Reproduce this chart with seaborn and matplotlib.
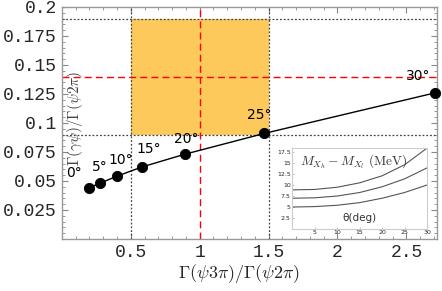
import numpy as np
import pandas as pd
import matplotlib
matplotlib.use("Agg")
import matplotlib.pyplot as plt
import matplotlib.patches as mpatches
from matplotlib.ticker import MultipleLocator, FixedLocator
import seaborn as sns

# valores
angulos = [0, 5, 10, 15, 20, 25, 30]
razao_3pi = [0.196, 0.275, 0.398, 0.580, 0.891, 1.47, 2.71]
razao_gamma = [0.044, 0.048, 0.054, 0.062, 0.073, 0.091, 0.126]
rotulos = ["0°", "5°", "10°", "15°", "20°", "25°", "30°"]

# faixa experimental
faixa_x = [0.5, 1.5]
faixa_y = [0.09, 0.19]
central_x = 1.0
central_y = 0.14

# inset: diferenca de massa vs theta
theta = [0, 5, 10, 15, 20, 25, 30]
curva_alta = [8.9, 9.0, 9.5, 10.5, 12.1, 14.6, 18.4]
curva_media = [7.0, 7.1, 7.5, 8.3, 9.6, 11.4, 13.9]
curva_baixa = [5.0, 5.1, 5.4, 6.0, 7.0, 8.3, 10.0]

sns.set_style("ticks")
plt.rcParams["mathtext.fontset"] = "cm"
mono = "Liberation Mono"

fig = plt.figure(figsize=(4.42, 2.91), dpi=100)
ax = fig.add_axes([0.140, 0.179, 0.848, 0.797])

df = pd.DataFrame({"x": razao_3pi, "y": razao_gamma})

# faixa laranja e linhas de referencia
ax.add_patch(mpatches.Rectangle((faixa_x[0], faixa_y[0]), faixa_x[1] - faixa_x[0],
                                faixa_y[1] - faixa_y[0], color="#fcc95a", lw=0, zorder=0))
for xv in faixa_x:
    ax.axvline(xv, color="#444444", ls=(0, (1.5, 1.5)), lw=0.9, zorder=1)
for yv in faixa_y:
    ax.axhline(yv, color="#444444", ls=(0, (1.5, 1.5)), lw=0.9, zorder=1)
ax.axvline(central_x, color="red", ls=(0, (5, 3)), lw=1.0, zorder=1)
ax.axhline(central_y, color="red", ls=(0, (5, 3)), lw=1.0, zorder=1)

sns.lineplot(data=df, x="x", y="y", ax=ax, color="black", lw=1.0, sort=False, zorder=3)
sns.scatterplot(data=df, x="x", y="y", ax=ax, color="black", s=55, edgecolor="black",
                zorder=4, clip_on=False)

offsets = [(-11, 6), (0, 7), (3, 7), (5, 8), (1, 6), (-4, 8), (-12, 7)]
for xv, yv, txt, off in zip(razao_3pi, razao_gamma, rotulos, offsets):
    ax.annotate(txt, (xv, yv), xytext=off, textcoords="offset points",
                ha="center", va="bottom", fontsize=10, color="black", zorder=5)

ax.set_xlim(0, 2.72)
ax.set_ylim(0, 0.2)
ax.xaxis.set_major_locator(FixedLocator([0.5, 1, 1.5, 2, 2.5]))
ax.xaxis.set_minor_locator(MultipleLocator(0.1))
ax.yaxis.set_major_locator(FixedLocator([0.025, 0.05, 0.075, 0.1, 0.125, 0.15, 0.175, 0.2]))
ax.yaxis.set_minor_locator(MultipleLocator(0.005))
ax.set_xticklabels(["0.5", "1", "1.5", "2", "2.5"])
ax.set_yticklabels(["0.025", "0.05", "0.075", "0.1", "0.125", "0.15", "0.175", "0.2"])
ax.tick_params(which="both", direction="in", top=True, right=True, color="#888888")
ax.tick_params(which="major", length=4, width=0.8, labelsize=13)
ax.tick_params(which="minor", length=2, width=0.6)
for lab in ax.get_xticklabels() + ax.get_yticklabels():
    lab.set_family(mono)
for sp in ax.spines.values():
    sp.set_color("#999999")
    sp.set_linewidth(1.0)
ax.set_xlabel("")
ax.set_ylabel("")

fig.text(0.54, 0.02, r"$\Gamma(\psi3\pi)/\Gamma(\psi2\pi)$", ha="center", va="bottom", fontsize=13)
ax.text(0.035, 0.52, r"$\Gamma(\gamma\psi)/\Gamma(\psi2\pi)$", transform=ax.transAxes,
        rotation=90, ha="center", va="center", fontsize=11, color="#444444")

# inset
ins = fig.add_axes([0.661, 0.213, 0.305, 0.278])
ins.patch.set_facecolor("white")
for curva in (curva_alta, curva_media, curva_baixa):
    sns.lineplot(x=theta, y=curva, ax=ins, color="#555555", lw=0.8)
ins.set_xlim(0, 30)
ins.set_ylim(0, 18.4)
ins.xaxis.set_major_locator(FixedLocator([5, 10, 15, 20, 25, 30]))
ins.yaxis.set_major_locator(FixedLocator([2.5, 5, 7.5, 10, 12.5, 15, 17.5]))
ins.set_yticklabels(["2.5", "5", "7.5", "10", "12.5", "15", "17.5"])
ins.tick_params(labelsize=4.5, length=1.5, width=0.5, pad=1, direction="in", color="#aaaaaa")
for sp in ins.spines.values():
    sp.set_color("#cccccc")
    sp.set_linewidth(0.8)
ins.text(0.06, 0.83, r"$M_{X_h}-M_{X_l}\ \mathrm{(MeV)}$", transform=ins.transAxes,
         ha="left", va="center", fontsize=9.5, color="#333333")
ins.text(0.5, 0.14, "θ(deg)", transform=ins.transAxes, ha="center", va="center",
         fontsize=7.5, color="#333333")

fig.savefig("out.png", dpi=100)
